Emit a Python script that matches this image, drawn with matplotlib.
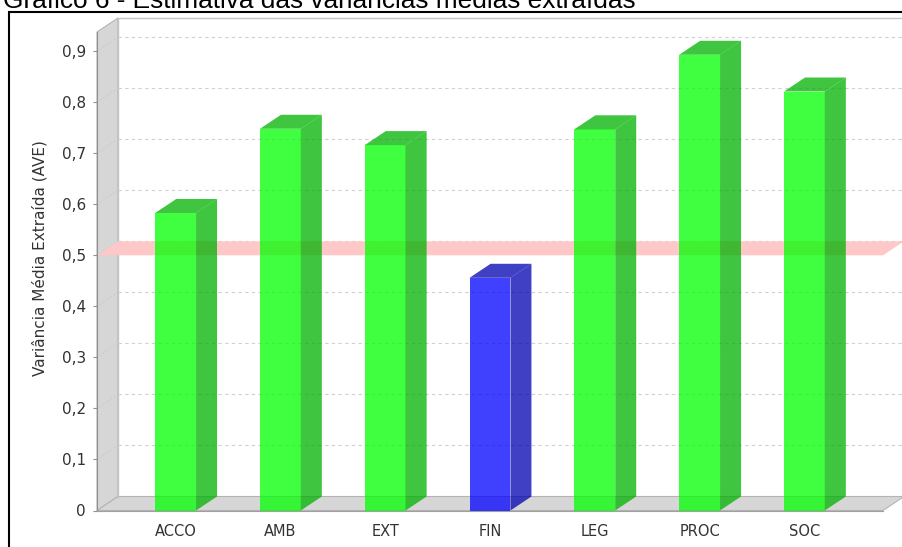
import matplotlib
matplotlib.use("Agg")
import matplotlib.pyplot as plt
from matplotlib.patches import Polygon, Rectangle
from matplotlib.ticker import FuncFormatter

# --- dados ---
categorias = ["ACCO", "AMB", "EXT", "FIN", "LEG", "PROC", "SOC"]
ave = [0.583, 0.748, 0.716, 0.456, 0.747, 0.893, 0.821]
cores = ["#00ff00", "#00ff00", "#00ff00", "#0000ff", "#00ff00", "#00ff00", "#00ff00"]
cores_escuras = ["#00b200", "#00b200", "#00b200", "#0000b2", "#00b200", "#00b200", "#00b200"]
limite_ave = 0.5
ticks_y = [0, 0.1, 0.2, 0.3, 0.4, 0.5, 0.6, 0.7, 0.8, 0.9]

titulo = "Gráfico 6 - Estimativa das variâncias médias extraídas"
rotulo_y = "Variância Média Extraída (AVE)"

# --- figura ---
W, H = 903, 547
fig = plt.figure(figsize=(W / 100, H / 100), dpi=100)
fig.patch.set_facecolor("white")

# area frontal do grafico (em pixels)
x0_px, x1_px, y_top_px, y_bot_px = 97, 883, 32, 510.5
ax = fig.add_axes([x0_px / W, 1 - y_bot_px / H, (x1_px - x0_px) / W, (y_bot_px - y_top_px) / H])
ax.patch.set_alpha(0)

xmin, xmax = -0.75, len(categorias) - 0.25
ymax = max(ave) * 1.05
ax.set_xlim(xmin, xmax)
ax.set_ylim(0, ymax)

# profundidade 3D convertida para unidades de dados
prof_x_px, prof_y_px = 21, 14
ddx = prof_x_px * (xmax - xmin) / (x1_px - x0_px)
ddy = prof_y_px * ymax / (y_bot_px - y_top_px)

cinza_parede = "#d6d6d6"
borda_parede = "#b4b4b4"

# parede esquerda e piso
ax.add_patch(Polygon([(xmin, 0), (xmin + ddx, ddy), (xmin + ddx, ymax + ddy), (xmin, ymax)],
                     closed=True, fc=cinza_parede, ec=borda_parede, lw=0.8, clip_on=False, zorder=1))
ax.add_patch(Polygon([(xmin, 0), (xmax, 0), (xmax + ddx, ddy), (xmin + ddx, ddy)],
                     closed=True, fc=cinza_parede, ec=borda_parede, lw=0.8, clip_on=False, zorder=1))
# contorno da parede do fundo
ax.plot([xmin + ddx, xmin + ddx, xmax + ddx], [ddy, ymax + ddy, ymax + ddy],
        color="#c4c4c4", lw=1.0, clip_on=False, zorder=1.5)

# grade tracejada no fundo + diagonais na parede lateral
for v in ticks_y[1:]:
    ax.plot([xmin + ddx, xmax + ddx], [v + ddy, v + ddy], color="#d0d0d0", lw=0.8,
            ls=(0, (3, 3)), clip_on=False, zorder=2)
    ax.plot([xmin, xmin + ddx], [v, v + ddy], color="#c8c8c8", lw=0.6,
            ls=(0, (2, 2)), clip_on=False, zorder=2)

# faixa de referencia em 0,5
ax.add_patch(Polygon([(xmin, limite_ave), (xmax, limite_ave), (xmax + ddx, limite_ave + ddy),
                      (xmin + ddx, limite_ave + ddy)],
                     closed=True, fc="#ffc8c8", ec="none", clip_on=False, zorder=3))

# barras 3D
largura = 0.39
alfa = 0.75
for i, (v, c, cd) in enumerate(zip(ave, cores, cores_escuras)):
    xa, xb = i - largura / 2, i + largura / 2
    ax.add_patch(Rectangle((xa, 0), largura, v, fc=c, ec="none", alpha=alfa, zorder=4))
    ax.add_patch(Polygon([(xb, 0), (xb + ddx, ddy), (xb + ddx, v + ddy), (xb, v)],
                         closed=True, fc=cd, ec="none", alpha=alfa, clip_on=False, zorder=4))
    ax.add_patch(Polygon([(xa, v), (xb, v), (xb + ddx, v + ddy), (xa + ddx, v + ddy)],
                         closed=True, fc=cd, ec="none", alpha=alfa, clip_on=False, zorder=4))

# eixos
for lado in ["top", "right"]:
    ax.spines[lado].set_visible(False)
ax.spines["left"].set_color("#909090")
ax.spines["bottom"].set_color("#a0a0a0")
ax.spines["left"].set_zorder(5)
ax.spines["bottom"].set_zorder(5)

ax.set_yticks(ticks_y)
ax.yaxis.set_major_formatter(FuncFormatter(lambda v, p: "0" if v == 0 else f"{v:.1f}".replace(".", ",")))
ax.tick_params(axis="y", length=3, width=0.8, color="#909090", pad=5, labelsize=11, labelcolor="#333333")
ax.set_xticks(range(len(categorias)))
ax.set_xticklabels(categorias)
ax.tick_params(axis="x", length=0, pad=10, labelsize=10.5, labelcolor="#333333")
for lbl in ax.get_xticklabels() + ax.get_yticklabels():
    lbl.set_family("DejaVu Sans")

fig.text(40 / W, 1 - 258 / H, rotulo_y, rotation=90, ha="center", va="center",
         fontsize=11, color="#333333", family="DejaVu Sans")

# titulo cortado no topo e moldura
fig.text(3 / W, 1 - 8.5 / H, titulo, ha="left", va="baseline", fontsize=18.9,
         family="Liberation Sans", color="black")
fig.patches.append(Rectangle((9.5 / W, -0.05), 1.0, 1 - 11.5 / H + 0.05, transform=fig.transFigure,
                             fill=False, ec="black", lw=1.5, figure=fig))

fig.savefig("out.png", dpi=100)
